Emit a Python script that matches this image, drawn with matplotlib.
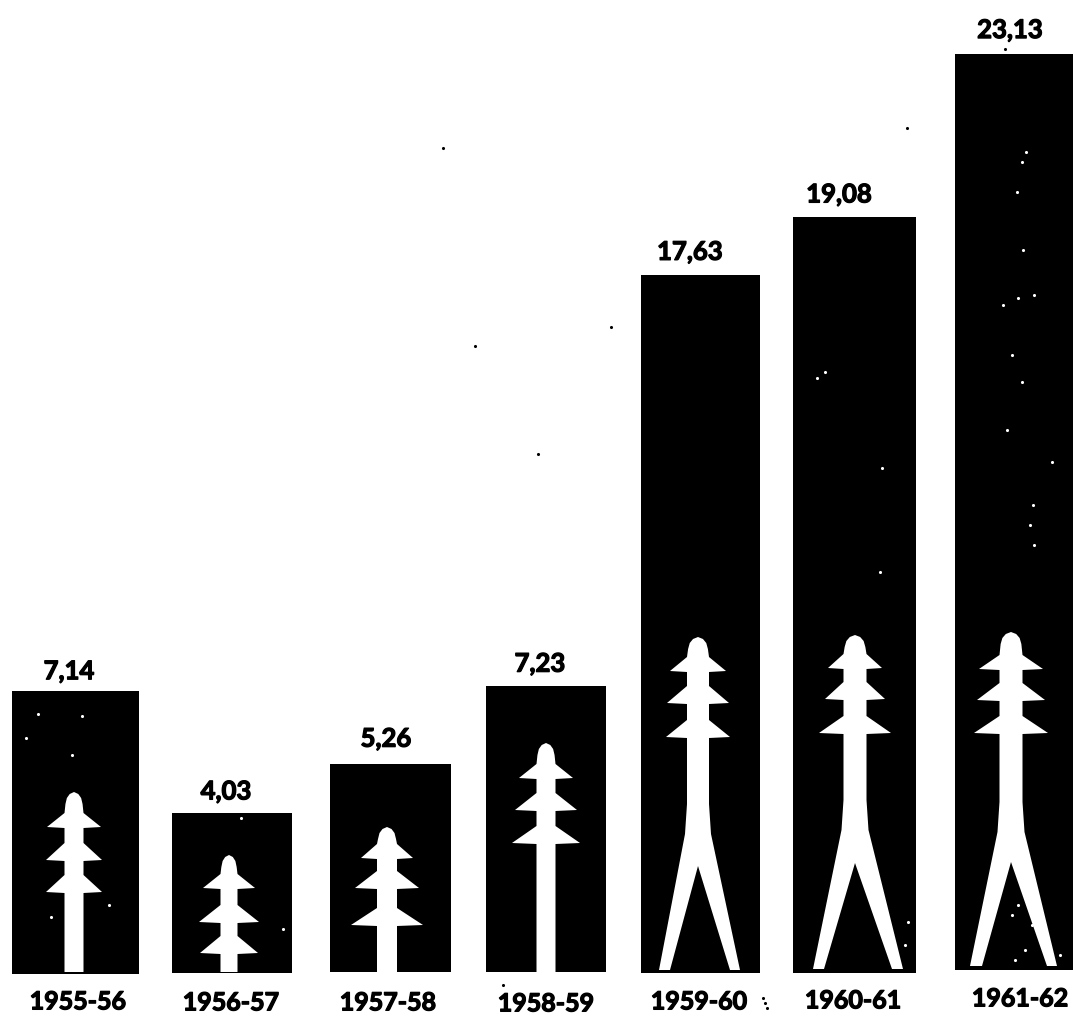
import matplotlib
matplotlib.use('Agg')
import matplotlib.pyplot as plt
import matplotlib.patheffects as pe
from matplotlib.patches import Polygon

# values
periods = ['1955-56', '1956-57', '1957-58', '1958-59', '1959-60', '1960-61', '1961-62']
values = [7.14, 4.03, 5.26, 7.23, 17.63, 19.08, 23.13]
value_labels = ['7,14', '4,03', '5,26', '7,23', '17,63', '19,08', '23,13']

# layout, in pixels of the 1073x1017 picture
W, H = 1073, 1017
BASE_PX = 973
PX_PER_UNIT = 39.6
bar_left = [12, 172, 330, 486, 641, 793, 955]
bar_right = [139, 292, 451, 606, 760, 916, 1075]
bar_lift = [-1, 0, 1, 1, 0, 0, 3]  # the scan is not quite level
value_x = [69, 226, 386, 540, 690, 839, 1010]
value_gap = [20, 22, 25, 22, 23, 23, 24]
period_x = [78, 231, 388, 546, 699, 853, 1020]
period_pad = [16, 17, 17, 18, 16, 15, 13]

# pylons: centre, top, bottom, arm heights, arm half widths, trunk half width
pylons_plain = [
    (74, 792, 972, [827, 860, 892], [27, 28, 28], 9.5),
    (229, 855, 972, [888, 922, 953], [26, 30, 29], 8.5),
    (387, 827, 972, [858, 888, 925], [26, 32, 36], 10),
    (546, 743, 972, [778, 810, 843], [27, 31, 34], 9.5),
]
# forked: + shoulder y, outer feet, inner feet, apex y
pylons_forked = [
    (698, 637, 970, [671, 703, 737], [28, 31, 32], 11, 834, (659, 740), (670, 730), 866),
    (855, 635, 969, [668, 699, 733], [27, 30, 36], 11.5, 830, (813, 903), (824, 892), 863),
    (1011, 632, 966, [669, 700, 733], [32, 34, 37], 11.5, 832, (970, 1057), (982, 1047), 862),
]

# scan specks
black_specks_x = [443, 907, 475, 611, 538, 503, 1005, 763, 765, 767]
black_specks_y = [148, 128, 346, 327, 454, 985, 49, 998, 1003, 1008]
white_specks_x = [38, 82, 26, 72, 51, 109, 241, 283, 882, 880, 817, 825, 1026, 1022, 1017, 1023, 1034, 1003, 1018,
                  1012, 1022, 1007, 1052, 1033, 1030, 1034, 905, 908, 1018, 1025, 1012, 1040, 1015, 1032, 1060]
white_specks_y = [714, 716, 738, 755, 917, 905, 818, 929, 468, 572, 378, 372, 152, 162, 192, 250, 295, 305, 298,
                  355, 382, 430, 462, 505, 525, 545, 945, 922, 905, 950, 915, 940, 960, 925, 955]


def upper_part(top, arm_ys, arm_hw, trunk):
    # right side going down from the tip, as offsets from the centre
    pts = [(0, top), (trunk * 0.45, top + 2), (trunk * 0.75, top + 6), (trunk * 0.9, top + 12)]
    for i, (y, hw) in enumerate(zip(arm_ys, arm_hw)):
        rise = 14 if i == 0 else 17
        pts += [(trunk, y - rise), (hw, y), (trunk, y + 1)]
    return pts


fig = plt.figure(figsize=(W / 100, H / 100), dpi=100)
ax = fig.add_axes([0, (H - BASE_PX) / H, 1, BASE_PX / H])
ax.set_xlim(0, W)
ax.set_ylim(0, BASE_PX / PX_PER_UNIT)

centres = [(l + r) / 2 for l, r in zip(bar_left, bar_right)]
widths = [r - l for l, r in zip(bar_left, bar_right)]
lifts = [p / PX_PER_UNIT for p in bar_lift]
ax.bar(centres, values, width=widths, bottom=lifts, color='black', clip_on=False)

thick = [pe.withStroke(linewidth=0.9, foreground='black')]
for x, v, lab, gap, lift in zip(value_x, values, value_labels, value_gap, lifts):
    ax.text(x, v + lift + gap / PX_PER_UNIT, lab, ha='center', va='center', fontsize=18.5,
            fontfamily='Lato', fontweight='bold', color='black', path_effects=thick)

ax.set_xticks(period_x, periods, fontsize=18, fontfamily='Lato', fontweight='bold')
ax.tick_params(axis='x', length=0)
for tick, pad in zip(ax.xaxis.get_major_ticks(), period_pad):
    tick.set_pad(pad * 0.72 + 1)
    tick.label1.set_path_effects(thick)
ax.set_yticks([])
for s in ax.spines.values():
    s.set_visible(False)

# overlay in picture pixels for the pylon icons and specks
over = fig.add_axes([0, 0, 1, 1], facecolor='none')
over.set_xlim(0, W)
over.set_ylim(H, 0)
over.axis('off')

for cx, top, bottom, arm_ys, arm_hw, trunk in pylons_plain:
    right = upper_part(top, arm_ys, arm_hw, trunk) + [(trunk, bottom)]
    pts = [(cx + dx, y) for dx, y in right] + [(cx - dx, y) for dx, y in reversed(right)]
    over.add_patch(Polygon(pts, closed=True, facecolor='white', edgecolor='none'))

for cx, top, bottom, arm_ys, arm_hw, trunk, sh, outer, inner, apex in pylons_forked:
    right = upper_part(top, arm_ys, arm_hw, trunk) + [(trunk, sh - 30), (trunk + 2, sh)]
    pts = [(cx + dx, y) for dx, y in right]
    pts += [(outer[1], bottom), (inner[1], bottom), (cx, apex), (inner[0], bottom), (outer[0], bottom)]
    pts += [(cx - dx, y) for dx, y in reversed(right)]
    over.add_patch(Polygon(pts, closed=True, facecolor='white', edgecolor='none'))

over.scatter(black_specks_x, black_specks_y, s=5, color='black', linewidths=0)
over.scatter(white_specks_x, white_specks_y, s=5, color='white', linewidths=0)

fig.savefig('out.png', dpi=100)
